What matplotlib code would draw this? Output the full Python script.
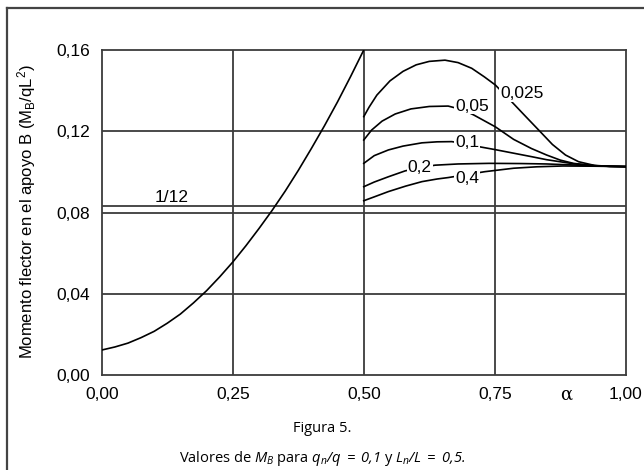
import matplotlib
matplotlib.use("Agg")
import matplotlib.pyplot as plt
from matplotlib.lines import Line2D

plt.rcParams['font.family'] = ['Liberation Sans', 'DejaVu Sans']
plt.rcParams['mathtext.fontset'] = 'custom'
plt.rcParams['mathtext.rm'] = 'Open Sans:italic'
plt.rcParams['mathtext.it'] = 'Open Sans:italic'
plt.rcParams['mathtext.sf'] = 'Liberation Sans'

# curve for alpha 0 .. 0,5
alpha_left = [0, 0.025, 0.05, 0.075, 0.1, 0.125, 0.15, 0.175, 0.2, 0.225, 0.25, 0.275,
              0.3, 0.325, 0.35, 0.375, 0.4, 0.425, 0.45, 0.475, 0.5]
mb_left = [0.0123, 0.0138, 0.0157, 0.0184, 0.0215, 0.0255, 0.0300, 0.0355, 0.0415, 0.0483,
           0.0556, 0.0636, 0.0721, 0.0810, 0.0905, 0.1007, 0.1115, 0.1227, 0.1345, 0.1470, 0.160]

# family of curves for alpha 0,5 .. 1,0
curve_names = ['0,025', '0,05', '0,1', '0,2', '0,4']
curve_alpha = [
    [0.5, 0.51, 0.525, 0.55, 0.575, 0.6, 0.625, 0.655, 0.68, 0.706, 0.73, 0.751, 0.782,
     0.81, 0.836, 0.86, 0.885, 0.91, 0.94, 0.97, 1.0],
    [0.5, 0.515, 0.535, 0.56, 0.59, 0.625, 0.661, 0.69, 0.71, 0.751, 0.786, 0.82, 0.849,
     0.875, 0.9, 0.94, 0.97, 1.0],
    [0.5, 0.52, 0.547, 0.575, 0.611, 0.64, 0.668, 0.69, 0.72, 0.75, 0.786, 0.82, 0.849,
     0.9, 0.95, 1.0],
    [0.5, 0.52, 0.547, 0.579, 0.61, 0.636, 0.68, 0.739, 0.8, 0.849, 0.9, 0.95, 1.0],
    [0.5, 0.52, 0.547, 0.58, 0.611, 0.64, 0.661, 0.7, 0.731, 0.786, 0.83, 0.88, 0.94, 1.0],
]
curve_mb = [
    [0.1272, 0.1318, 0.1378, 0.1448, 0.1495, 0.1527, 0.1544, 0.155, 0.1538, 0.151, 0.1468,
     0.1428, 0.1346, 0.1270, 0.1200, 0.1135, 0.1083, 0.1050, 0.1032, 0.1027, 0.1026],
    [0.1157, 0.1206, 0.1250, 0.1285, 0.1310, 0.1322, 0.1324, 0.1305, 0.128, 0.1222, 0.1160,
     0.1115, 0.1083, 0.1058, 0.1042, 0.1030, 0.1027, 0.1026],
    [0.1042, 0.1080, 0.1108, 0.1127, 0.1143, 0.1148, 0.1149, 0.1140, 0.1124, 0.1110, 0.1092,
     0.1075, 0.1060, 0.1040, 0.1029, 0.1026],
    [0.0927, 0.0950, 0.0976, 0.1005, 0.1022, 0.1033, 0.1039, 0.1042, 0.1041, 0.1039, 0.1034,
     0.1029, 0.1026],
    [0.0858, 0.0877, 0.0903, 0.0930, 0.0952, 0.0965, 0.0972, 0.0988, 0.1001, 0.1018, 0.1025,
     0.1029, 0.1028, 0.1026],
]
label_pos = [(0.802, 0.1387), (0.707, 0.1324), (0.697, 0.1146), (0.607, 0.1020), (0.697, 0.0965)]

xticks = [0, 0.25, 0.5, 0.75, 1.0]
xtick_labels = ['0,00', '0,25', '0,50', '0,75', '1,00']
yticks = [0, 0.04, 0.08, 0.12, 0.16]
ytick_labels = ['0,00', '0,04', '0,08', '0,12', '0,16']

grid_c = '#3c3c3c'

fig = plt.figure(figsize=(6.44, 4.70), dpi=100)
ax = fig.add_axes([0.158, 0.2021, 0.8137, 0.6915])
ax.set_xlim(0, 1)
ax.set_ylim(0, 0.16)

for v in [0.25, 0.5, 0.75]:
    ax.axvline(v, color=grid_c, lw=1.3, zorder=1)
for v in [0.04, 0.08, 0.12, 1 / 12]:
    ax.axhline(v, color=grid_c, lw=1.3, zorder=1)
for s in ax.spines.values():
    s.set_color(grid_c)
    s.set_linewidth(1.3)

ax.plot(alpha_left, mb_left, color='black', lw=1.2, zorder=3)
for a, m in zip(curve_alpha, curve_mb):
    ax.plot(a, m, color='black', lw=1.2, zorder=3)
for name, (x, y) in zip(curve_names, label_pos):
    ax.text(x, y, name, fontsize=12.5, ha='center', va='center', zorder=4,
            bbox=dict(facecolor='white', edgecolor='none', pad=0.6))

ax.text(0.134, 0.0876, '1/12', fontsize=12.5, ha='center', va='center')

ax.set_xticks(xticks)
ax.set_xticklabels(xtick_labels)
ax.set_yticks(yticks)
ax.set_yticklabels(ytick_labels)
ax.tick_params(length=0, labelsize=12.5, pad=8.5)

ax.text(0.886, -0.06, 'α', transform=ax.transAxes, fontsize=13,
        family='DejaVu Serif', ha='center', va='center')

fig.text(27 / 644, 1 - 212 / 470, r'Momento flector en el apoyo B (M$_\mathsf{B}$/qL$^\mathsf{2}$)',
         rotation=90, fontsize=12, ha='center', va='center')

fig.text(0.5, 1 - 428 / 470, 'Figura 5.', fontsize=10.5, family='Open Sans',
         ha='center', va='center')
fig.text(0.5, 1 - 459 / 470,
         r'Valores de $M_B$ para $q_n/q\;=\;0{,}1$ y $L_n/L\;=\;0{,}5.$',
         fontsize=10.5, family='Open Sans', ha='center', va='center')

# outer frame (left and top edges visible)
fig.add_artist(Line2D([7.3 / 644, 7.3 / 644], [0, 1 - 8.3 / 470], transform=fig.transFigure,
                      color='#444444', lw=1.6))
fig.add_artist(Line2D([7.3 / 644, 1], [1 - 8.3 / 470, 1 - 8.3 / 470], transform=fig.transFigure,
                      color='#444444', lw=1.6))

fig.savefig('out.png', dpi=100)
